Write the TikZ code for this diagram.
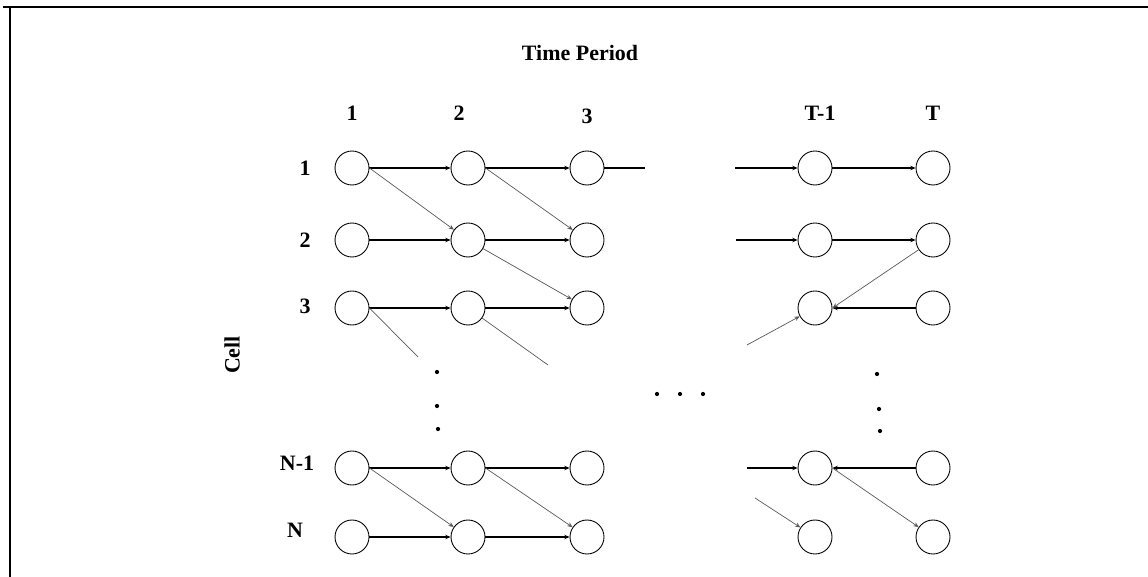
\documentclass[tikz,border=0pt]{standalone}
\usepackage{fontspec}
\setmainfont{Liberation Serif}
\usetikzlibrary{arrows.meta}
\tikzset{state/.style={circle,draw,minimum size=0.68cm,inner sep=0pt,line width=0.5pt},
 lbl/.style={font=\fontsize{12.5}{14}\selectfont\bfseries},
 flow/.style={line width=0.8pt,-{Stealth[length=3pt,width=2.5pt]}},
 cross/.style={line width=0.4pt,black!65,-{Stealth[length=3pt,width=2.5pt]}},
 stub/.style={line width=0.4pt,black!65},
 }

\begin{document}
\begin{tikzpicture}[x=0.02cm,y=-0.02cm]
        \useasboundingbox (0,0) rectangle (1148,577);
        \draw[line width=1.2pt] (3,7) -- (1148,7);
        \draw[line width=1pt] (10,7) -- (10,577);
        % headings
        \node[lbl] (title) at (580,53) {Time Period};
        \node[lbl] (cell) at (232,355) [rotate=90] {Cell};
        \node[lbl] (t1) at (352,113) {1};
        \node[lbl] (t2) at (459,113) {2};
        \node[lbl] (t3) at (587,116) {3};
        \node[lbl] (ts) at (820,113) {T-1};
        \node[lbl] (tt) at (933,113) {T};
        \node[lbl] (r1) at (305,168) {1};
        \node[lbl] (r2) at (305,240) {2};
        \node[lbl] (r3) at (305,306) {3};
        \node[lbl] (rm) at (297,463) {N-1};
        \node[lbl] (rn) at (295,530) {N};
        % states
        \foreach \c/\x in {1/352,2/468,3/587,s/815,t/933}
          \foreach \r/\y in {1/168,2/240,3/308,m/468,n/537}
            \node[state] (n\r\c) at (\x,\y) {};
        % free ends
        \coordinate (e1) at (645,168);
        \coordinate (f1) at (735,168);
        \coordinate (f2) at (736,240);
        \coordinate (f3) at (747,345);
        \coordinate (fm) at (747,468);
        \coordinate (fn) at (755,498);
        \coordinate (g1) at (418,357);
        \coordinate (g2) at (548,365);
        % horizontal moves
        \foreach \r in {1,2,3,m,n} {
          \draw[flow] (n\r1) -- (n\r2);
          \draw[flow] (n\r2) -- (n\r3);
        }
        \draw[line width=0.8pt] (n13) -- (e1);
        \draw[flow] (f1) -- (n1s);
        \draw[flow] (f2) -- (n2s);
        \draw[flow] (fm) -- (nms);
        \draw[flow] (n1s) -- (n1t);
        \draw[flow] (n2s) -- (n2t);
        \draw[flow] (n3t) -- (n3s);
        \draw[flow] (nmt) -- (nms);
        % diagonal moves
        \draw[cross] (n11.east) -- (n22);
        \draw[cross] (n12.east) -- (n23);
        \draw[cross] (n22) -- (n33);
        \draw[cross] (nm1.east) -- (nn2);
        \draw[cross] (nm2.east) -- (nn3);
        \draw[stub] (n31.east) -- (g1);
        \draw[stub] (n32) -- (g2);
        \draw[cross] (f3) -- (n3s);
        \draw[cross] (n2t) -- (n3s.east);
        \draw[cross] (fn) -- (nns);
        \draw[cross] (nms.east) -- (nnt);
        % dots
        \foreach \p in {(437,372),(437,406),(438,429),(657,394),(680,394),(703,394),(877,374),(879,409),(880,431)}
          \fill \p circle (1.2pt);
\end{tikzpicture}
\end{document}
